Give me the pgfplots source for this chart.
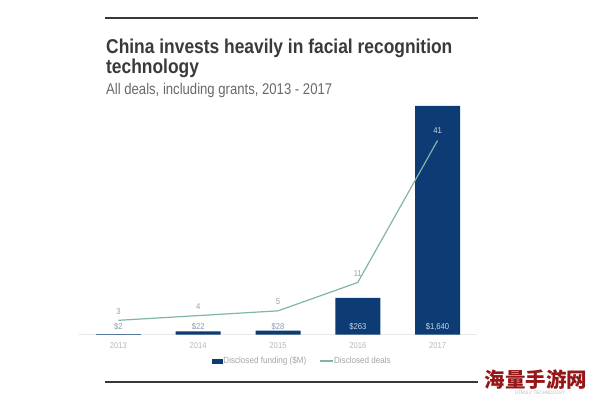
\documentclass[border=0pt]{standalone}
\usepackage{fontspec}
\setmainfont{Liberation Sans}
\newfontfamily\titlefont{Liberation Sans}[FakeStretch=0.87]
\newfontfamily\subfont{Liberation Sans}[FakeStretch=0.846]
\newfontfamily\smallfont{Liberation Sans}[FakeStretch=0.9]
\newfontfamily\cjk{Noto Sans CJK SC}
\usepackage{pgfplots}
\pgfplotsset{compat=1.18}
\definecolor{navy}{RGB}{12,60,115}
\definecolor{tealline}{RGB}{130,181,170}
\definecolor{titlegray}{RGB}{58,58,58}
\definecolor{subgray}{RGB}{105,105,105}
\definecolor{tickgray}{RGB}{185,185,185}
\definecolor{dealgray}{RGB}{160,160,160}
\definecolor{fundgray}{RGB}{140,155,176}
\definecolor{fundwhite}{RGB}{200,214,232}
\definecolor{legendgray}{RGB}{165,165,165}
\definecolor{basegray}{RGB}{232,232,232}
\definecolor{rulegray}{RGB}{55,55,55}
\definecolor{wmred}{RGB}{150,22,24}
\begin{document}
\begin{tikzpicture}[x=1bp,y=1bp]
\path[use as bounding box, fill=white] (0,0) rectangle (594,398);
% bars axis
\begin{axis}[
  at={(78.6bp,63.5bp)}, anchor=south west,
  scale only axis, width=398.8bp, height=228.5bp,
  xmin=-0.5, xmax=4.5, ymin=0, ymax=1640,
  axis x line*=bottom, axis y line=none,
  x axis line style={draw=basegray, line width=0.8bp},
  xtick={0,1,2,3,4}, xticklabels={2013,2014,2015,2016,2017},
  major tick length=0pt,
  xticklabel style={anchor=center, yshift=-11.5bp, text=tickgray,
    font=\smallfont\fontsize{8.5bp}{10bp}\selectfont},
  clip=false,
]
\addplot[ybar, bar width=45bp, fill=navy, draw=none]
  coordinates {(0,2) (1,22) (2,28) (3,263) (4,1640)};
\addplot[draw=none, nodes near coords, point meta=explicit symbolic,
  every node near coord/.style={anchor=center, yshift=7.5bp, text=fundgray,
    font=\smallfont\fontsize{8.5bp}{10bp}\selectfont}]
  coordinates {(0,0) [{\$2}] (1,0) [{\$22}] (2,0) [{\$28}]};
\addplot[draw=none, nodes near coords, point meta=explicit symbolic,
  every node near coord/.style={anchor=center, yshift=7.5bp, text=fundwhite,
    font=\smallfont\fontsize{8.5bp}{10bp}\selectfont}]
  coordinates {(3,0) [{\$263}] (4,0) [{\$1,640}]};
\end{axis}
% deals axis
\begin{axis}[
  at={(78.6bp,63.5bp)}, anchor=south west,
  scale only axis, width=398.8bp, height=228.5bp,
  xmin=-0.5, xmax=4.5, ymin=0, ymax=48.3,
  hide axis, clip=false,
  legend columns=2,
  legend style={at={(0.560,-0.116)}, anchor=center, draw=none, fill=none,
    font=\smallfont\fontsize{9bp}{10bp}\selectfont, text=legendgray,
    /tikz/every even column/.append style={column sep=12bp},
    nodes={inner sep=0.8bp}},
]
\addlegendimage{legend image code/.code={\fill[navy] (0bp,-2bp) rectangle (10bp,2bp);}}
\addlegendentry{Disclosed funding (\$M)}
\addplot[tealline, line width=1.2bp,
  legend image code/.code={\draw[tealline, line width=1.2bp] (0bp,0bp) -- (13bp,0bp);}]
  coordinates {(0,3) (1,4) (2,5) (3,11) (4,41)};
\addlegendentry{Disclosed deals}
\addplot[draw=none, nodes near coords, point meta=explicit symbolic,
  every node near coord/.style={anchor=center, yshift=9bp, text=dealgray,
    font=\smallfont\fontsize{8.5bp}{10bp}\selectfont}]
  coordinates {(0,3) [3] (1,4) [4] (2,5) [5] (3,11) [11]};
\addplot[draw=none, nodes near coords, point meta=explicit symbolic,
  every node near coord/.style={anchor=center, yshift=10bp, text=fundwhite,
    font=\smallfont\fontsize{8.5bp}{10bp}\selectfont}]
  coordinates {(4,41) [41]};
\end{axis}
% rules and titles
\draw[line width=1.5bp, rulegray] (105,380) -- (478,380);
\draw[line width=2bp, rulegray] (105,16) -- (478,16);
\node[anchor=base west, inner sep=0, text=titlegray,
  font=\titlefont\bfseries\fontsize{20bp}{24bp}\selectfont] at (106,345)
  {China invests heavily in facial recognition};
\node[anchor=base west, inner sep=0, text=titlegray,
  font=\titlefont\bfseries\fontsize{20bp}{24bp}\selectfont] at (106,324.5)
  {technology};
\node[anchor=base west, inner sep=0, text=subgray,
  font=\subfont\fontsize{15.5bp}{18bp}\selectfont] at (106,303.5)
  {All deals, including grants, 2013 - 2017};
% watermark
\node[text=wmred, inner sep=0, font=\cjk\bfseries\fontsize{20.5bp}{22bp}\selectfont]
  at (536,18.5) {海量手游网};
\node[text=tickgray, inner sep=0, font=\smallfont\fontsize{5bp}{6bp}\selectfont]
  at (540,5.5) {UTRULY TECHNOLOGY};
\end{tikzpicture}
\end{document}
